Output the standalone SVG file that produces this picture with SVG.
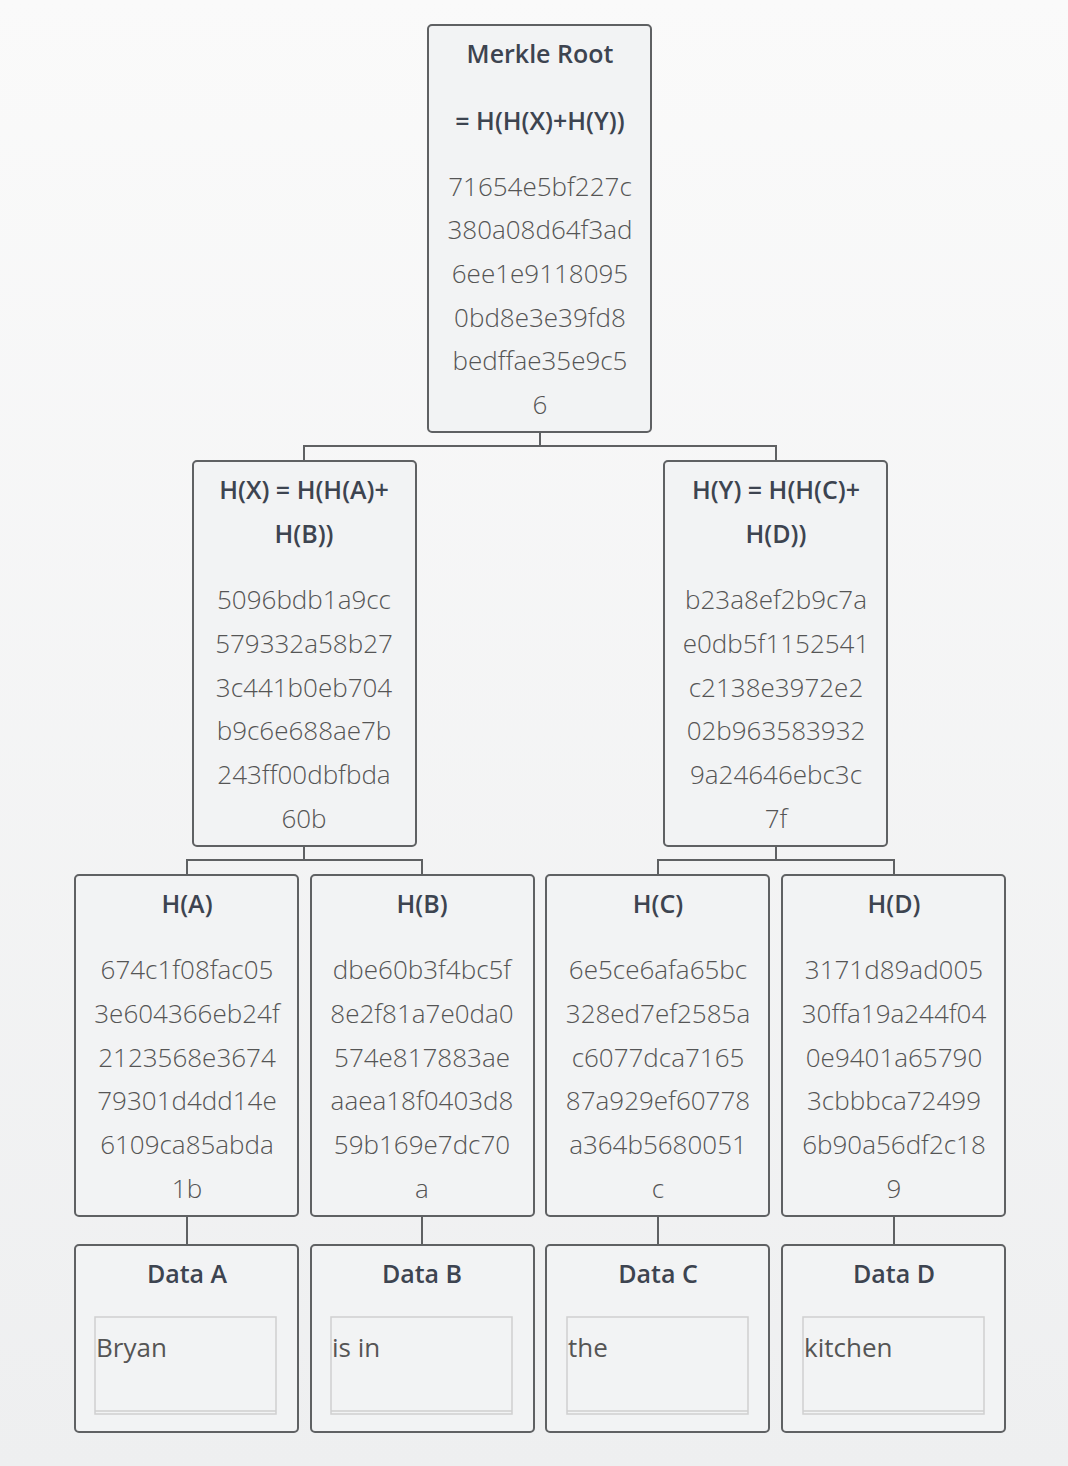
<svg xmlns="http://www.w3.org/2000/svg" width="1068" height="1466" viewBox="0 0 1068 1466">
<defs>
<linearGradient id="bg" x1="0" y1="0" x2="0" y2="1"><stop offset="0" stop-color="#fafafa"/><stop offset="1" stop-color="#eeeff0"/></linearGradient>
<style>
.box{fill:#f2f3f4;stroke:#5f6163;stroke-width:2}
.t{font-family:"Open Sans","Noto Sans",sans-serif;font-size:25px;font-weight:600;fill:#3d4450;text-anchor:middle}
.h{font-family:"Open Sans","Noto Sans",sans-serif;font-size:26px;font-weight:300;fill:#555;text-anchor:middle}
.d{font-family:"Open Sans","Noto Sans",sans-serif;font-size:26px;fill:#555}
.ta{fill:none;stroke:#cfcfcf;stroke-width:1.5}
.c{fill:none;stroke:#5f6163;stroke-width:2}
</style>
</defs>
<rect width="1068" height="1466" fill="url(#bg)"/>
<g id="connectors">
<path class="c" d="M540 432V446M304 461V446H776V461"/>
<path class="c" d="M304 846V860M187 875V860H422V875"/>
<path class="c" d="M776 846V860M658 875V860H894V875"/>
<path class="c" d="M187 1216V1245M422 1216V1245M658 1216V1245M894 1216V1245"/>
</g>
<g id="root"><rect class="box" x="428" y="25" width="223" height="407" rx="4"/>
<text class="t" x="540" y="63">Merkle Root</text><text class="t" x="540" y="130">= H(H(X)+H(Y))</text>
<text class="h" x="540" y="196">71654e5bf227c</text><text class="h" x="540" y="239">380a08d64f3ad</text><text class="h" x="540" y="283">6ee1e9118095</text><text class="h" x="540" y="327">0bd8e3e39fd8</text><text class="h" x="540" y="370">bedffae35e9c5</text><text class="h" x="540" y="414">6</text></g>
<g id="hx"><rect class="box" x="193" y="461" width="223" height="385" rx="4"/>
<text class="t" x="304" y="499">H(X) = H(H(A)+</text><text class="t" x="304" y="543">H(B))</text>
<text class="h" x="304" y="609">5096bdb1a9cc</text><text class="h" x="304" y="653">579332a58b27</text><text class="h" x="304" y="697">3c441b0eb704</text><text class="h" x="304" y="740">b9c6e688ae7b</text><text class="h" x="304" y="784">243ff00dbfbda</text><text class="h" x="304" y="828">60b</text></g>
<g id="hy"><rect class="box" x="664" y="461" width="223" height="385" rx="4"/>
<text class="t" x="776" y="499">H(Y) = H(H(C)+</text><text class="t" x="776" y="543">H(D))</text>
<text class="h" x="776" y="609">b23a8ef2b9c7a</text><text class="h" x="776" y="653">e0db5f1152541</text><text class="h" x="776" y="697">c2138e3972e2</text><text class="h" x="776" y="740">02b963583932</text><text class="h" x="776" y="784">9a24646ebc3c</text><text class="h" x="776" y="828">7f</text></g>
<g id="ha"><rect class="box" x="75" y="875" width="223" height="341" rx="4"/>
<text class="t" x="187" y="913">H(A)</text>
<text class="h" x="187" y="979">674c1f08fac05</text><text class="h" x="187" y="1023">3e604366eb24f</text><text class="h" x="187" y="1067">2123568e3674</text><text class="h" x="187" y="1110">79301d4dd14e</text><text class="h" x="187" y="1154">6109ca85abda</text><text class="h" x="187" y="1198">1b</text></g>
<g id="hb"><rect class="box" x="311" y="875" width="223" height="341" rx="4"/>
<text class="t" x="422" y="913">H(B)</text>
<text class="h" x="422" y="979">dbe60b3f4bc5f</text><text class="h" x="422" y="1023">8e2f81a7e0da0</text><text class="h" x="422" y="1067">574e817883ae</text><text class="h" x="422" y="1110">aaea18f0403d8</text><text class="h" x="422" y="1154">59b169e7dc70</text><text class="h" x="422" y="1198">a</text></g>
<g id="hc"><rect class="box" x="546" y="875" width="223" height="341" rx="4"/>
<text class="t" x="658" y="913">H(C)</text>
<text class="h" x="658" y="979">6e5ce6afa65bc</text><text class="h" x="658" y="1023">328ed7ef2585a</text><text class="h" x="658" y="1067">c6077dca7165</text><text class="h" x="658" y="1110">87a929ef60778</text><text class="h" x="658" y="1154">a364b5680051</text><text class="h" x="658" y="1198">c</text></g>
<g id="hd"><rect class="box" x="782" y="875" width="223" height="341" rx="4"/>
<text class="t" x="894" y="913">H(D)</text>
<text class="h" x="894" y="979">3171d89ad005</text><text class="h" x="894" y="1023">30ffa19a244f04</text><text class="h" x="894" y="1067">0e9401a65790</text><text class="h" x="894" y="1110">3cbbbca72499</text><text class="h" x="894" y="1154">6b90a56df2c18</text><text class="h" x="894" y="1198">9</text></g>
<g id="da"><rect class="box" x="75" y="1245" width="223" height="187" rx="4"/><text class="t" x="187" y="1283">Data A</text><rect class="ta" x="95" y="1317" width="181" height="97"/><line class="ta" x1="95" y1="1411" x2="276" y2="1411"/><text class="d" x="96" y="1357">Bryan</text></g>
<g id="db"><rect class="box" x="311" y="1245" width="223" height="187" rx="4"/><text class="t" x="422" y="1283">Data B</text><rect class="ta" x="331" y="1317" width="181" height="97"/><line class="ta" x1="331" y1="1411" x2="512" y2="1411"/><text class="d" x="332" y="1357">is in</text></g>
<g id="dc"><rect class="box" x="546" y="1245" width="223" height="187" rx="4"/><text class="t" x="658" y="1283">Data C</text><rect class="ta" x="567" y="1317" width="181" height="97"/><line class="ta" x1="567" y1="1411" x2="748" y2="1411"/><text class="d" x="568" y="1357">the</text></g>
<g id="dd"><rect class="box" x="782" y="1245" width="223" height="187" rx="4"/><text class="t" x="894" y="1283">Data D</text><rect class="ta" x="803" y="1317" width="181" height="97"/><line class="ta" x1="803" y1="1411" x2="984" y2="1411"/><text class="d" x="804" y="1357">kitchen</text></g>
</svg>
